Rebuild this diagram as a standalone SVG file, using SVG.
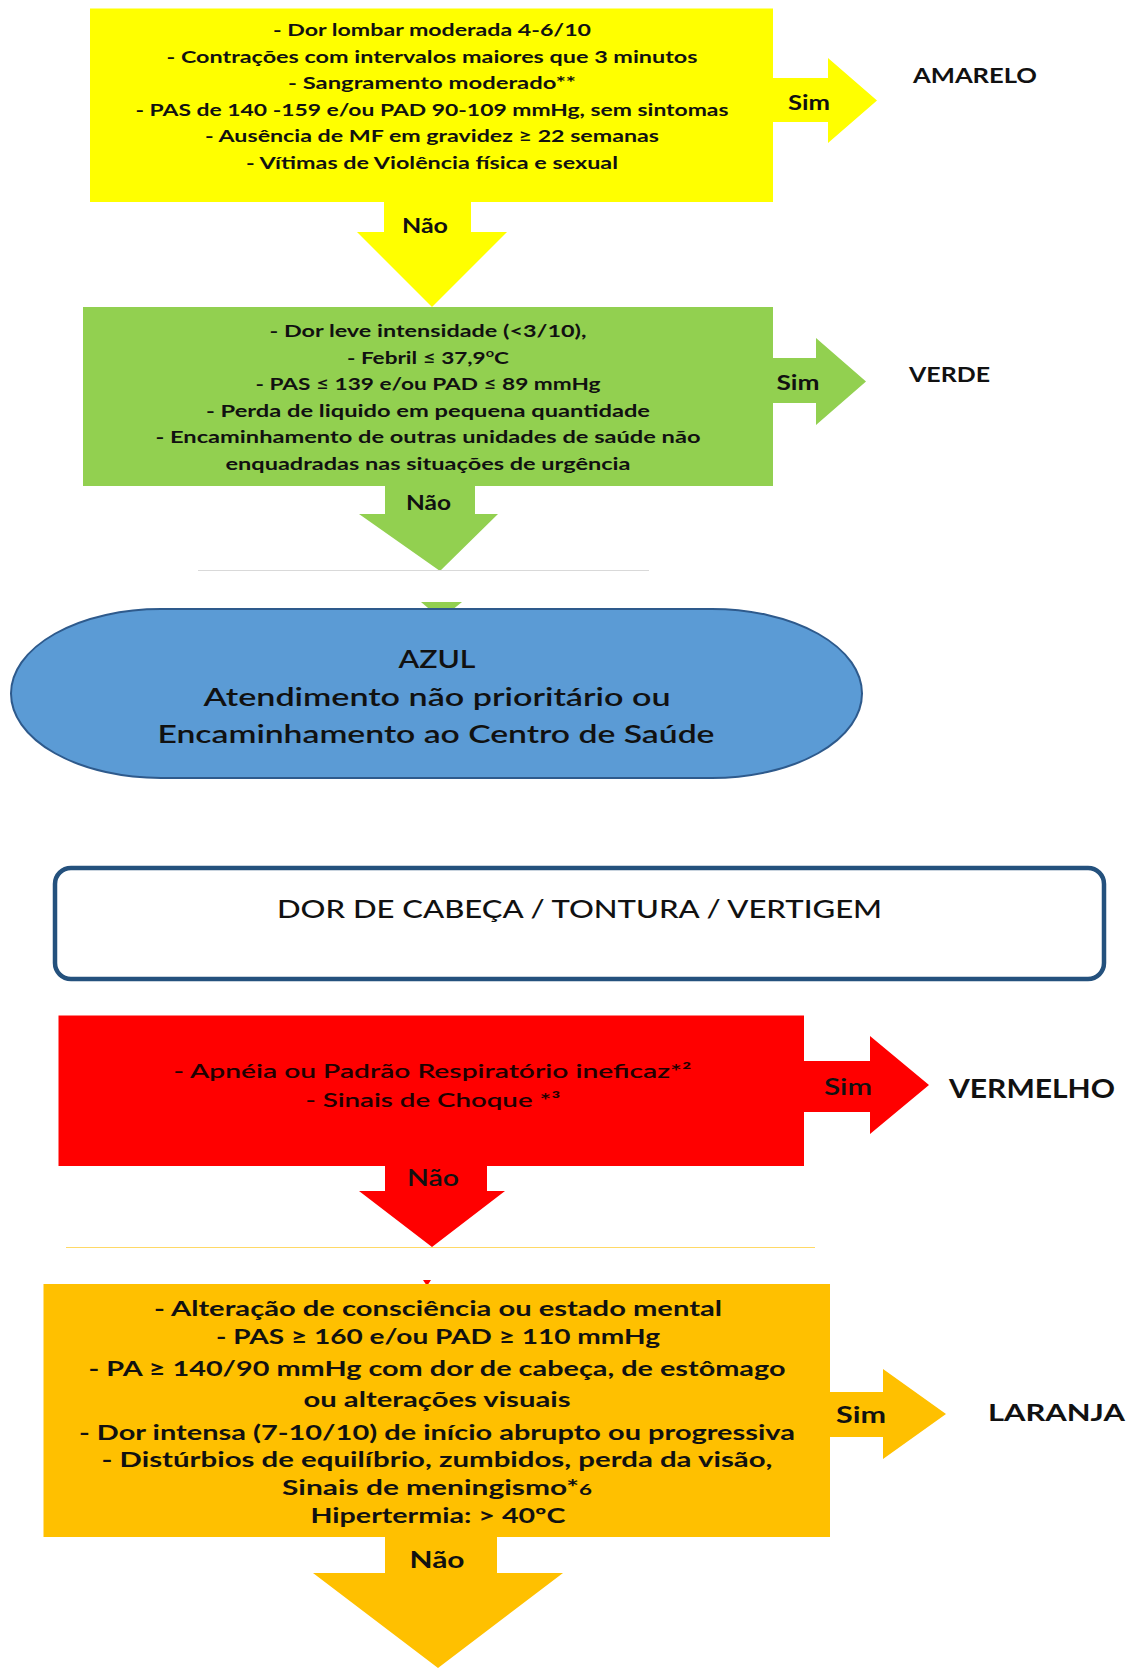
<svg xmlns="http://www.w3.org/2000/svg" width="1134" height="1668" viewBox="0 0 1134 1668">
<style>
.t{font-family:Lato,"Liberation Sans",sans-serif;fill:#111;text-anchor:middle}
.b{font-weight:bold}
.m{font-weight:500}
.s{font-weight:600}
.body{font-size:17px;font-weight:bold}
.lab{font-size:21px;font-weight:bold}
.res{font-size:21px;font-weight:bold;text-anchor:start}
.red{fill:#1e0000}
</style>
<rect width="1134" height="1668" fill="#fff"/>
<g id="connectors">
  <polygon points="773,78 828,78 828,58 877,100.5 828,143 828,122 773,122" fill="#FFFF00"/>
  <text class="t lab" x="809" y="110" textLength="42" lengthAdjust="spacingAndGlyphs">Sim</text>
  <polygon points="384,201 471,201 471,232 507,232 432,307 357,232 384,232" fill="#FFFF00"/>
  <text class="t lab" x="425" y="233" textLength="46" lengthAdjust="spacingAndGlyphs">Não</text>
  <polygon points="773,358 816,358 816,338 866,381.5 816,425 816,403 773,403" fill="#92D050"/>
  <text class="t lab" x="798" y="390" textLength="43" lengthAdjust="spacingAndGlyphs">Sim</text>
  <polygon points="385,485 475,485 475,514 498,514 440,571 359,514 385,514" fill="#92D050"/>
  <text class="t lab" x="428.5" y="510" textLength="45" lengthAdjust="spacingAndGlyphs">Não</text>
  <line x1="198" y1="570.5" x2="649" y2="570.5" stroke="#d9d9d9" stroke-width="1"/>
  <polygon points="421,602 462,602 441,619" fill="#92D050"/>
  <polygon points="804,1061 870,1061 870,1036 929,1085 870,1134 870,1112 804,1112" fill="#FF0000"/>
  <text class="t s" x="848" y="1095" style="font-size:22px" textLength="48" lengthAdjust="spacingAndGlyphs">Sim</text>
  <polygon points="385,1165 487,1165 487,1191 505,1191 432,1247 359,1191 385,1191" fill="#FF0000"/>
  <text class="t s" x="433" y="1186" style="font-size:22px" textLength="52" lengthAdjust="spacingAndGlyphs">Não</text>
  <line x1="66" y1="1247.5" x2="815" y2="1247.5" stroke="#FFD966" stroke-width="1"/>
  <polygon points="423,1280 431,1280 427,1286" fill="#FF0000"/>
  <polygon points="829,1392 883,1392 883,1369 946,1414 883,1459 883,1437 829,1437" fill="#FFC000"/>
  <text class="t lab" x="861" y="1423" style="font-size:22px" textLength="50" lengthAdjust="spacingAndGlyphs">Sim</text>
  <polygon points="385,1536 497,1536 497,1573 563,1573 438,1668 313,1573 385,1573" fill="#FFC000"/>
  <text class="t lab" x="437" y="1568" style="font-size:22px" textLength="55" lengthAdjust="spacingAndGlyphs">Não</text>
</g>
<g id="node-amarelo-criterios">
  <rect x="90" y="8.5" width="683" height="193.5" fill="#FFFF00"/>
  <text class="t body" x="432" y="36" textLength="318" lengthAdjust="spacingAndGlyphs">- Dor lombar moderada 4-6/10</text>
  <text class="t body" x="432" y="62.5" textLength="531" lengthAdjust="spacingAndGlyphs">- Contrações com intervalos maiores que 3 minutos</text>
  <text class="t body" x="432" y="89" textLength="288" lengthAdjust="spacingAndGlyphs">- Sangramento moderado**</text>
  <text class="t body" x="432" y="115.5" textLength="593" lengthAdjust="spacingAndGlyphs">- PAS de 140 -159 e/ou PAD 90-109 mmHg, sem sintomas</text>
  <text class="t body" x="432" y="142" textLength="454" lengthAdjust="spacingAndGlyphs">- Ausência de MF em gravidez ≥ 22 semanas</text>
  <text class="t body" x="432" y="168.5" textLength="372" lengthAdjust="spacingAndGlyphs">- Vítimas de Violência física e sexual</text>
</g>
<g id="node-amarelo">
  <text class="t res" x="913" y="83" textLength="124" lengthAdjust="spacingAndGlyphs">AMARELO</text>
</g>
<g id="node-verde-criterios">
  <rect x="83" y="307" width="690" height="179" fill="#92D050"/>
  <text class="t body" x="428" y="337" textLength="317" lengthAdjust="spacingAndGlyphs">- Dor leve intensidade (&lt;3/10),</text>
  <text class="t body" x="428" y="363.5" textLength="162" lengthAdjust="spacingAndGlyphs">- Febril ≤ 37,9<tspan font-size="11" dy="-7">o</tspan><tspan dy="7">C</tspan></text>
  <text class="t body" x="428" y="390" textLength="345" lengthAdjust="spacingAndGlyphs">- PAS ≤ 139 e/ou PAD ≤ 89 mmHg</text>
  <text class="t body" x="428" y="416.5" textLength="444" lengthAdjust="spacingAndGlyphs">- Perda de liquido em pequena quantidade</text>
  <text class="t body" x="428" y="443" textLength="545" lengthAdjust="spacingAndGlyphs">- Encaminhamento de outras unidades de saúde não</text>
  <text class="t body" x="428" y="469.5" textLength="405" lengthAdjust="spacingAndGlyphs">enquadradas nas situações de urgência</text>
</g>
<g id="node-verde">
  <text class="t res" x="909" y="382" textLength="81" lengthAdjust="spacingAndGlyphs">VERDE</text>
</g>
<g id="node-azul">
  <rect x="11" y="609" width="851" height="169" rx="150" ry="84.5" fill="#5B9BD5" stroke="#2E5A8C" stroke-width="2"/>
  <text class="t s" x="437" y="668" style="font-size:24px" textLength="77" lengthAdjust="spacingAndGlyphs">AZUL</text>
  <text class="t s" x="437" y="706" style="font-size:24px" textLength="467" lengthAdjust="spacingAndGlyphs">Atendimento não prioritário ou</text>
  <text class="t s" x="436" y="743" style="font-size:24px" textLength="557" lengthAdjust="spacingAndGlyphs">Encaminhamento ao Centro de Saúde</text>
</g>
<g id="node-titulo">
  <rect x="55" y="868" width="1049" height="111" rx="16" ry="16" fill="#fff" stroke="#24517D" stroke-width="4.5"/>
  <text class="t m" x="579.5" y="918" style="font-size:25px" textLength="605" lengthAdjust="spacingAndGlyphs">DOR DE CABEÇA / TONTURA / VERTIGEM</text>
</g>
<g id="node-vermelho-criterios">
  <rect x="58.5" y="1015.5" width="745.5" height="150.5" fill="#FF0000"/>
  <text class="t red s" x="432.5" y="1078" style="font-size:19px" textLength="518" lengthAdjust="spacingAndGlyphs">- Apnéia ou Padrão Respiratório ineficaz*²</text>
  <text class="t red s" x="433" y="1107" style="font-size:19px" textLength="255" lengthAdjust="spacingAndGlyphs">- Sinais de Choque *³</text>
</g>
<g id="node-vermelho">
  <text class="t" x="949" y="1098" style="font-size:27px;font-weight:bold;text-anchor:start" textLength="166" lengthAdjust="spacingAndGlyphs">VERMELHO</text>
</g>
<g id="node-laranja-criterios">
  <rect x="43.5" y="1284" width="786.5" height="253" fill="#FFC000"/>
  <g style="font-size:20px;font-weight:bold">
  <text class="t" x="438" y="1316" textLength="568" lengthAdjust="spacingAndGlyphs">- Alteração de consciência ou estado mental</text>
  <text class="t" x="438" y="1344" textLength="444" lengthAdjust="spacingAndGlyphs">- PAS ≥ 160 e/ou PAD ≥ 110 mmHg</text>
  <text class="t" x="437" y="1376" textLength="697" lengthAdjust="spacingAndGlyphs">- PA ≥ 140/90 mmHg com dor de cabeça, de estômago</text>
  <text class="t" x="437" y="1407" textLength="267" lengthAdjust="spacingAndGlyphs">ou alterações visuais</text>
  <text class="t" x="437" y="1440" textLength="716" lengthAdjust="spacingAndGlyphs">- Dor intensa (7-10/10) de início abrupto ou progressiva</text>
  <text class="t" x="437" y="1467" textLength="671" lengthAdjust="spacingAndGlyphs">- Distúrbios de equilíbrio, zumbidos, perda da visão,</text>
  <text class="t" x="437" y="1495" textLength="310" lengthAdjust="spacingAndGlyphs">Sinais de meningismo*<tspan font-size="15">6</tspan></text>
  <text class="t" x="438" y="1523" textLength="255" lengthAdjust="spacingAndGlyphs">Hipertermia: &gt; 40ºC</text>
  </g>
</g>
<g id="node-laranja">
  <text class="t" x="988" y="1421" style="font-size:22px;font-weight:bold;text-anchor:start" textLength="137" lengthAdjust="spacingAndGlyphs">LARANJA</text>
</g>
</svg>
